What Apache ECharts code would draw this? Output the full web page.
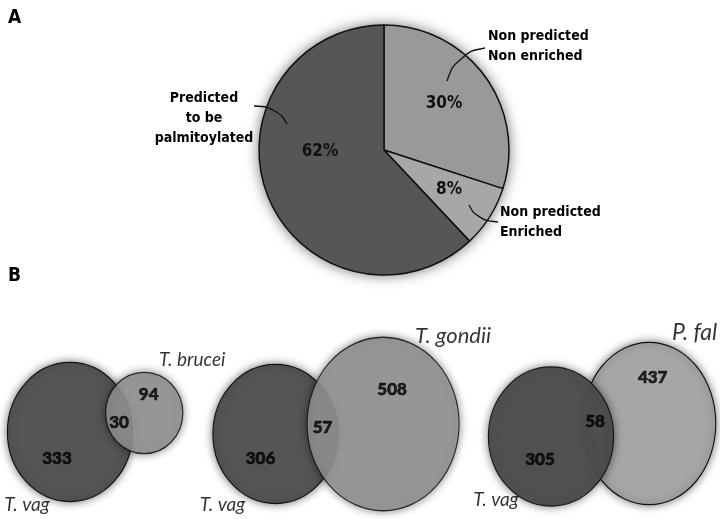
<!DOCTYPE html>
<html><head><meta charset="utf-8">
<script src="https://cdn.jsdelivr.net/npm/echarts@6/dist/echarts.min.js"></script>
<style>html,body{margin:0;padding:0;background:#fff}#c{width:720px;height:519px}</style>
</head><body><div id="c"></div>
<script>
// ---------- Panel A data ----------
const pieNames = ['Non predicted\nNon enriched', 'Non predicted\nEnriched', 'Predicted\nto be\npalmitoylated'];
const pieValues = [30, 8, 62];
// ---------- Panel B data ----------
const vennLeftName = ['T. vag', 'T. vag', 'T. vag'];
const vennRightName = ['T. brucei', 'T. gondii', 'P. fal'];
const vennLeftOnly = [333, 306, 305];
const vennOverlap = [30, 57, 58];
const vennRightOnly = [94, 508, 437];
const panelLabels = ['A', 'B'];

// ---------- layout / style (not data) ----------
const PIE = {cx: 384, cy: 150, r: 125};
const pieColors = ['#999999', '#a7a7a7', '#565656'];
const pctOffset = [[60, -46], [65, 40], [-64, 2]];
const nameLayout = [
  {x: 488, y: 46, align: 'left', line: [[447, 81], [457, 53], [485, 48]]},
  {x: 500, y: 222, align: 'left', line: [[469, 205], [477, 220], [498, 222]]},
  {x: 204, y: 118, align: 'center', line: [[287, 124], [277, 107], [254, 106]]}
];
const PIE_FONT = "'DejaVu Sans Condensed','DejaVu Sans',sans-serif";
const VENN_FONT = "Lato, 'Open Sans', sans-serif";
const DARK = '#555555';
const K = 7.3; // px of height per sqrt(count)
const VENN = [
  {cx: 70, cy: 432, aspL: 0.9, aspR: 0.95, dyR: -19, gap: 27, numL: [-13, 27], numR: [4.5, -18], numO: [0, 0], nmL: [-43, 73], nmR: [48, -53], fsL: 19, fsR: 19, leftOnTop: false},
  {cx: 275.5, cy: 434, aspL: 0.9, aspR: 0.876, dyR: -10, gap: 31, numL: [-15, 25], numR: [9, -34], numO: [0, -1], nmL: [-53, 71], nmR: [70, -88], fsL: 19, fsR: 22, leftOnTop: false},
  {cx: 551, cy: 436.5, aspL: 0.9, aspR: 0.82, dyR: -13, gap: 31, numL: [-11, 23.5], numR: [3.5, -45.5], numO: [-3, -8], nmL: [-55, 63.5], nmR: [45.5, -90.5], fsL: 19, fsR: 23, leftOnTop: true}
];

const pieTotal = pieValues.reduce((a, b) => a + b, 0);
const pieData = pieNames.map((n, i) => ({name: n, value: pieValues[i], itemStyle: {color: pieColors[i]}}));

const bottomCircles = [], topCircles = [], vennLabels = [];
const shadow = {shadowBlur: 9, shadowColor: 'rgba(0,0,0,0.55)'};
for (let i = 0; i < vennLeftOnly.length; i++) {
  const L = VENN[i];
  const nL = vennLeftOnly[i] + vennOverlap[i];
  const nR = vennRightOnly[i] + vennOverlap[i];
  const hL = K * Math.sqrt(nL), wL = hL * L.aspL;
  const hR = K * Math.sqrt(nR), wR = hR * L.aspR;
  const xL = L.cx, yL = L.cy;
  const xR = xL + wL / 2 + wR / 2 - L.gap, yR = yL + L.dyR;
  const border = {borderColor: '#111', borderWidth: 1.2};
  const left = {name: vennLeftName[i], value: [xL, yL], symbolSize: [wL, hL],
    itemStyle: Object.assign({color: L.leftOnTop ? '#4e4e4e' : DARK, opacity: L.leftOnTop ? 0.94 : 1}, border, shadow)};
  const right = {name: vennRightName[i], value: [xR, yR], symbolSize: [wR, hR],
    itemStyle: Object.assign({color: L.leftOnTop ? '#a6a6a6' : '#999999', opacity: L.leftOnTop ? 1 : 0.85}, border, shadow)};
  if (L.leftOnTop) { bottomCircles.push(right); topCircles.push(left); }
  else { bottomCircles.push(left); topCircles.push(right); }
  const num = {fontFamily: VENN_FONT, fontWeight: 900, fontSize: 17, color: '#000', textBorderColor: '#000', textBorderWidth: 0.6};
  vennLabels.push({name: String(vennLeftOnly[i]), value: [xL + L.numL[0], yL + L.numL[1]], label: num});
  vennLabels.push({name: String(vennOverlap[i]), value: [xL + wL / 2 - L.gap / 2 + L.numO[0], (yL + yR) / 2 + L.numO[1]], label: num});
  vennLabels.push({name: String(vennRightOnly[i]), value: [xR + L.numR[0], yR + L.numR[1]], label: num});
  vennLabels.push({name: vennLeftName[i], value: [xL + L.nmL[0], yL + L.nmL[1]],
    label: {fontFamily: VENN_FONT, fontStyle: 'italic', fontSize: L.fsL, color: '#000'}});
  vennLabels.push({name: vennRightName[i], value: [xR + L.nmR[0], yR + L.nmR[1]],
    label: {fontFamily: VENN_FONT, fontStyle: 'italic', fontSize: L.fsR, color: '#000'}});
}

const chart = echarts.init(document.getElementById('c'), null, {renderer: 'canvas'});
chart.setOption({
  animation: false,
  backgroundColor: '#ffffff',
  title: [
    {text: panelLabels[0], left: 3, top: 4, textStyle: {fontFamily: PIE_FONT, fontWeight: 'bold', fontSize: 19, color: '#000'}},
    {text: panelLabels[1], left: 3, top: 262, textStyle: {fontFamily: PIE_FONT, fontWeight: 'bold', fontSize: 19, color: '#000'}}
  ],
  grid: {left: 0, right: 0, top: 0, bottom: 0},
  xAxis: {type: 'value', min: 0, max: 720, show: false},
  yAxis: {type: 'value', min: 0, max: 519, inverse: true, show: false},
  series: [
    {type: 'pie', center: [PIE.cx, PIE.cy], radius: PIE.r, silent: true, z: 1,
      data: [{name: 'total', value: pieTotal}],
      itemStyle: {color: '#666', shadowBlur: 14, shadowColor: 'rgba(0,0,0,0.6)'},
      label: {show: false}, labelLine: {show: false}},
    {type: 'pie', center: [PIE.cx, PIE.cy], radius: PIE.r, startAngle: 90, clockwise: true, silent: true, z: 2,
      avoidLabelOverlap: false, data: pieData,
      itemStyle: {borderColor: '#111', borderWidth: 1.5},
      label: {show: true, position: 'inside', formatter: '{c}%', fontFamily: PIE_FONT, fontWeight: 'bold', fontSize: 17, color: '#111'},
      labelLine: {show: false},
      labelLayout: p => ({x: PIE.cx + pctOffset[p.dataIndex][0], y: PIE.cy + pctOffset[p.dataIndex][1], align: 'center', verticalAlign: 'middle'})},
    {type: 'pie', center: [PIE.cx, PIE.cy], radius: PIE.r, startAngle: 90, clockwise: true, silent: true, z: 3,
      avoidLabelOverlap: false,
      data: pieData.map(d => ({name: d.name, value: d.value, itemStyle: {color: 'rgba(0,0,0,0)'}})),
      itemStyle: {borderWidth: 0},
      label: {show: true, position: 'outside', formatter: '{b}', fontFamily: PIE_FONT, fontWeight: 'bold', fontSize: 14, lineHeight: 20, color: '#000'},
      labelLine: {show: true, smooth: 0.5, lineStyle: {color: '#111', width: 1.3}},
      labelLayout: p => {
        const L = nameLayout[p.dataIndex];
        return {x: L.x, y: L.y, align: L.align, verticalAlign: 'middle', labelLinePoints: L.line};
      }},
    {type: 'scatter', symbol: 'circle', silent: true, z: 2, data: bottomCircles, label: {show: false}},
    {type: 'scatter', symbol: 'circle', silent: true, z: 3, data: topCircles, label: {show: false}},
    {type: 'scatter', symbolSize: 0, silent: true, z: 4, data: vennLabels,
      label: {show: true, position: 'inside', formatter: '{b}'}}
  ]
});
</script>
</body></html>
